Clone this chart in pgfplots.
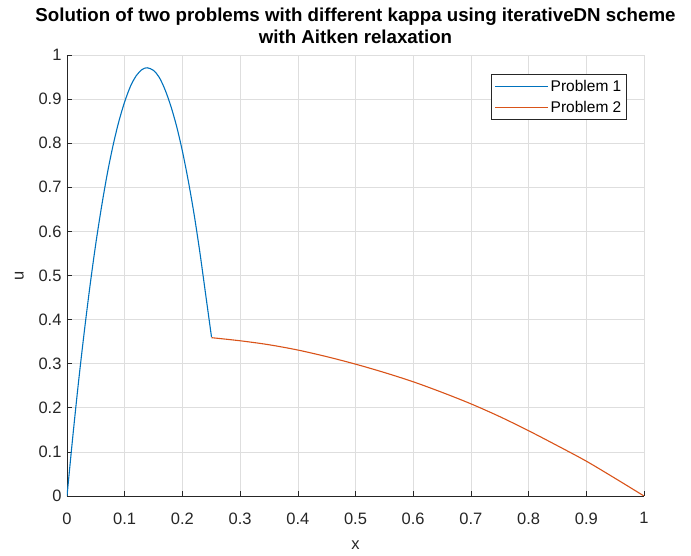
\documentclass[border=0pt]{standalone}
\usepackage{pgfplots}
\pgfplotsset{compat=1.18}
\usepackage{fontspec}
\setmainfont{Liberation Sans}
\definecolor{mblue}{rgb}{0,0.447,0.741}
\definecolor{morange}{rgb}{0.85,0.325,0.098}
\definecolor{axgray}{rgb}{0.15,0.15,0.15}
\begin{document}
\begin{tikzpicture}
\begin{axis}[
    scale only axis,
    width=577pt, height=441pt,
    xmin=0, xmax=1, ymin=0, ymax=1,
    xtick={0,0.1,...,1}, ytick={0,0.1,...,1},
    axis lines=left,
    axis line style={-, draw=axgray, line width=0.8pt},
    tick align=inside,
    major tick length=5pt,
    tick style={axgray, line width=0.6pt},
    grid=major,
    major grid style={draw=black!13, line width=0.6pt},
    /pgf/number format/assume math mode=true,
    /pgf/number format/fixed,
    /pgf/number format/precision=1,
    ticklabel style={font=\fontsize{16.5}{18}\selectfont, text=axgray},
    xticklabel style={yshift=-13pt},
    yticklabel style={xshift=-2pt},
    xlabel={x}, ylabel={u},
    label style={font=\fontsize{16.5}{18}\selectfont, text=axgray},
    xlabel style={yshift=-10pt},
    ylabel style={yshift=8pt},
    title={\textbf{Solution of two problems with different kappa using iterativeDN scheme}\\\textbf{with Aitken relaxation}},
    title style={font=\fontsize{18.7}{22}\selectfont, align=center, yshift=2pt},
    legend style={at={(rel axis cs:0.970,0.958)}, anchor=north east,
        draw=axgray, line width=0.6pt, font=\fontsize{15.5}{17}\selectfont,
        inner xsep=3pt, inner ysep=4pt, row sep=4.5pt},
    legend cell align=left,
]

% Problem 1
\addplot[draw=mblue, line width=1.1pt, smooth,
    legend image code/.code={\draw[draw=mblue, line width=1.1pt] (0pt,0pt) -- (53pt,0pt);}]
    coordinates {
    (0,0) (0.01,0.134) (0.02,0.259) (0.03,0.373) (0.04,0.478)
    (0.05,0.573) (0.06,0.657) (0.07,0.732) (0.08,0.796) (0.09,0.850)
    (0.10,0.894) (0.11,0.929) (0.12,0.953) (0.13,0.967) (0.139,0.971)
    (0.15,0.965) (0.16,0.949) (0.17,0.921) (0.18,0.884) (0.19,0.838)
    (0.20,0.782) (0.21,0.716) (0.22,0.641) (0.23,0.555) (0.24,0.460)
    (0.2505,0.36)
};
\addlegendentry{Problem 1}

% Problem 2
\addplot[draw=morange, line width=1.1pt, smooth,
    legend image code/.code={\draw[draw=morange, line width=1.1pt] (0pt,0pt) -- (53pt,0pt);}]
    coordinates {
    (0.2505,0.359) (0.3,0.352) (0.35,0.343) (0.4,0.331) (0.45,0.316)
    (0.5,0.299) (0.55,0.280) (0.6,0.259) (0.65,0.235) (0.7,0.209)
    (0.75,0.180) (0.8,0.148) (0.85,0.114) (0.9,0.079) (0.95,0.040) (1,0)
};
\addlegendentry{Problem 2}

\end{axis}
\pgfresetboundingbox
\path (current axis.south west) ++(-67pt,-60pt) coordinate (bl);
\path (current axis.north east) ++(47pt,55pt) coordinate (tr);
\path (bl) rectangle (tr);
\end{tikzpicture}
\end{document}
